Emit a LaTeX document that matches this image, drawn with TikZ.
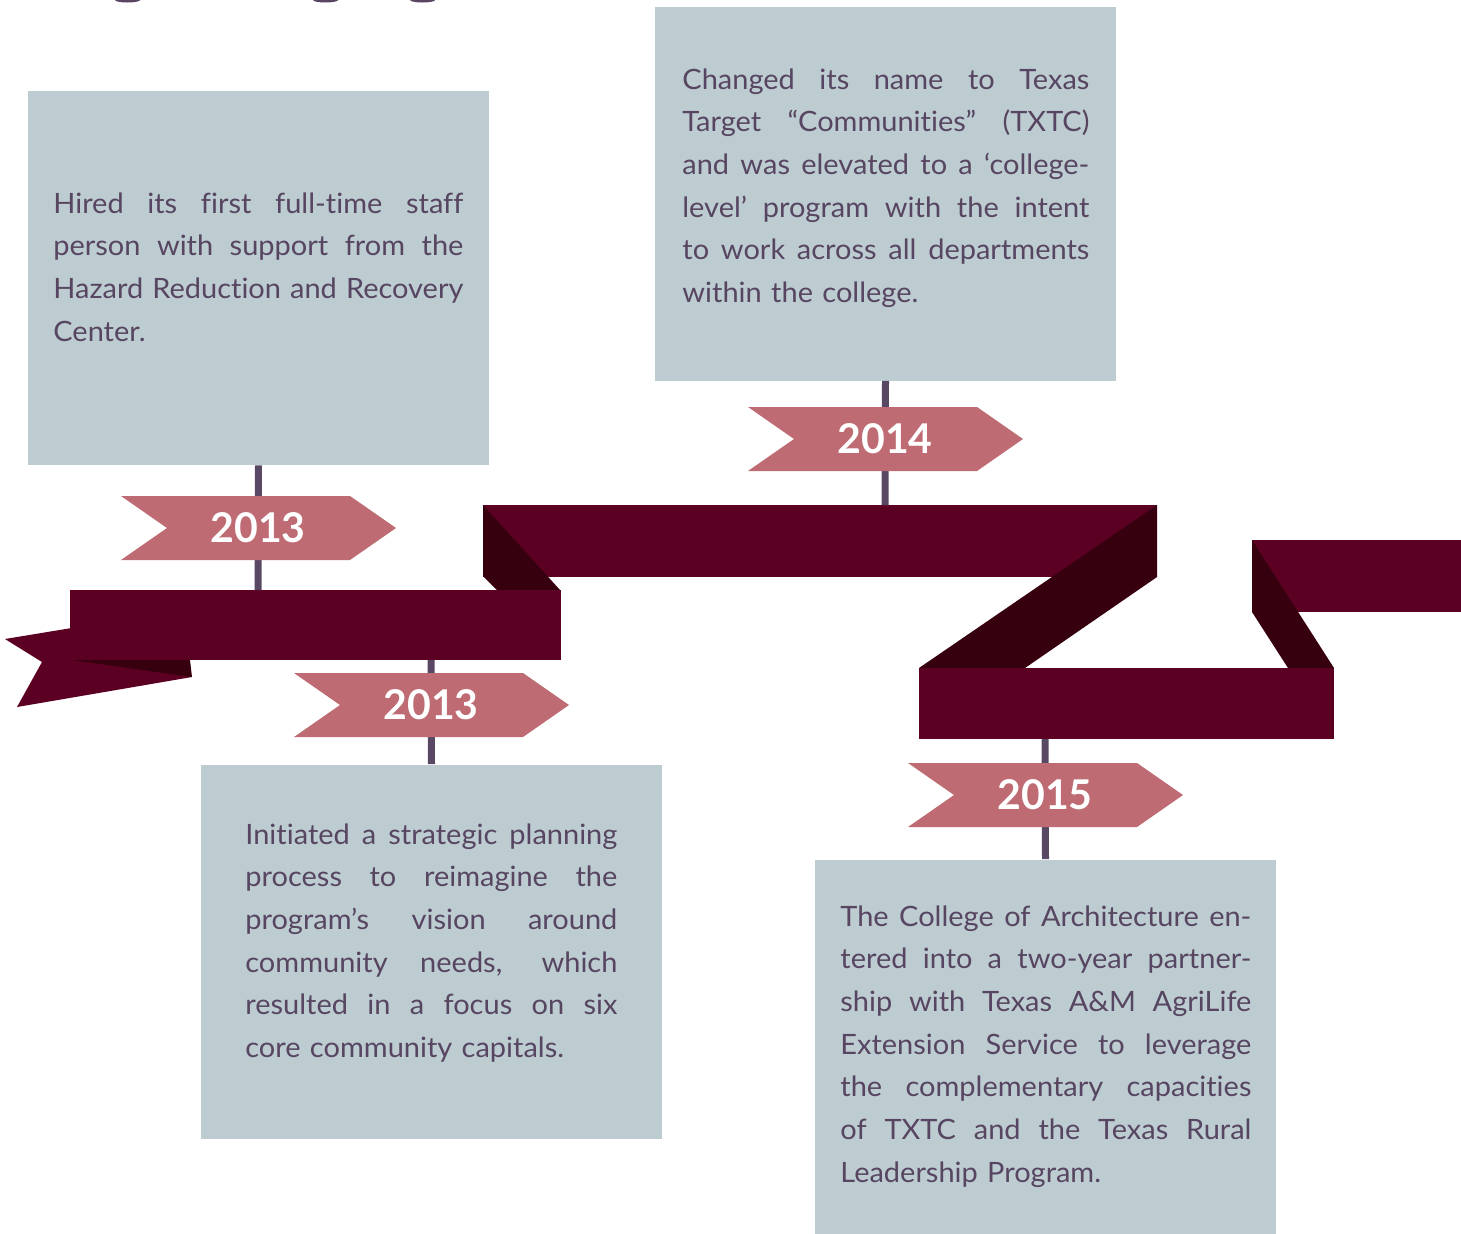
\documentclass[tikz,border=0pt]{standalone}
\usepackage{fontspec}
\setmainfont{Lato}
\newfontfamily\bodyfont[FakeStretch=1.035,Ligatures=NoCommon]{Lato}
\usepackage{xcolor}
\usepackage{tikz}
\usetikzlibrary{positioning}
\setlength{\parindent}{0pt}

\definecolor{ribbon}{HTML}{5C0023}
\definecolor{ribbonfold}{HTML}{37000F}
\definecolor{tagpink}{HTML}{BF6B73}
\definecolor{boxgrey}{HTML}{BCCCD1}
\definecolor{inkpurple}{HTML}{574561}
\definecolor{stempurple}{HTML}{594864}

\newlength{\linew}
% one justified line of a box text
\newcommand{\jline}[1]{\leavevmode\hbox to \linew{\spaceskip=0.2em plus 1fil minus 0.06em\relax #1}\\}
% year flag: name, x, y, year
\newcommand{\yeartag}[4]{%
  \fill[tagpink] (#2-137,#3-32) -- (#2+92,#3-32) -- (#2+138,#3) -- (#2+92,#3+32) -- (#2-137,#3+32) -- (#2-91,#3) -- cycle;
  \node[yeartxt] (#1) at (#2,#3) {#4};}

\begin{document}
\begin{tikzpicture}[x=0.5pt,y=-0.5pt,
  infobox/.style={fill=boxgrey,inner sep=0pt,minimum width=230.5pt,minimum height=187pt},
  infotext/.style={anchor=north west,inner sep=0pt,align=left,text=inkpurple,text width=#1,
    font=\bodyfont\fontsize{14}{21.35}\selectfont,execute at begin node={\setlength{\linew}{#1}}},
  yeartxt/.style={inner sep=0pt,text=white,font=\fontsize{20.5}{24}\selectfont\bfseries},
  stem/.style={stempurple,line width=3.5pt}]
	\useasboundingbox (0,0) rectangle (1461,1233);
	% bits of the cut title
	\fill[inkpurple] (127.5,0) ellipse (12.5 and 2.5);
	\fill[inkpurple] (325.5,0) ellipse (12.5 and 2.5);
	\fill[inkpurple] (422.5,0) ellipse (12.5 and 2.5);

	% boxes
	\node[infobox] (box1) at (258.5,278) {};
	\node[infobox] (box2) at (431.5,951.5) {};
	\node[infobox] (box3) at (885.5,193.5) {};
	\node[infobox] (box4) at (1045.5,1046.5) {};

	% ribbon
	\fill[ribbon] (5,639) -- (120,620) -- (192,677) -- (17,707) -- (42,662) -- cycle;
	\fill[ribbonfold] (72,660) -- (190,660) -- (192,677) -- cycle;
	\fill[ribbon] (483,505) rectangle (1157,577);
	\fill[ribbonfold] (483,505) -- (560,590) -- (497,590) -- (483,576) -- cycle;
	\fill[ribbon] (70,590) rectangle (561,660);
	\fill[ribbon] (919,668) rectangle (1334,739);
	\fill[ribbonfold] (1157,505) -- (1157,577) -- (1025,668) -- (919,668) -- cycle;
	\fill[ribbon] (1252,540) rectangle (1461,612);
	\fill[ribbonfold] (1252,540) -- (1252,612) -- (1288,668) -- (1334,668) -- cycle;

	\coordinate (r1) at (258,590);
	\coordinate (r2) at (431,660);
	\coordinate (r3) at (885,505);
	\coordinate (r4) at (1045,739);
	\draw[stem] (box1.south) -- (r1);
	\draw[stem] (r2) -- (box2.north);
	\draw[stem] (box3.south) -- (r3);
	\draw[stem] (r4) -- (box4.north);

	% year flags
	\yeartag{y1}{258}{528}{2013}
	\yeartag{y2}{431}{705}{2013}
	\yeartag{y3}{885}{439}{2014}
	\yeartag{y4}{1045}{795}{2015}

	% texts
	\node[infotext=205pt] (t1) at (53,192) {\jline{Hired its first full-time staff}\jline{person with support from the}\jline{Hazard Reduction and Recovery}Center.};
	\node[infotext=186pt] (t2) at (245,823) {\jline{Initiated a strategic planning}\jline{process to reimagine the}\jline{program’s vision around}\jline{community needs, which}\jline{resulted in a focus on six}core community capitals.};
	\node[infotext=203.5pt] (t3) at (682,68) {\jline{Changed its name to Texas}\jline{Target “Communities” (TXTC)}\jline{and was elevated to a ‘college-}\jline{level’ program with the intent}\jline{to work across all departments}within the college.};
	\node[infotext=205.5pt] (t4) at (840,905) {\jline{The College of Architecture en-}\jline{tered into a two-year partner-}\jline{ship with Texas A\&M AgriLife}\jline{Extension Service to leverage}\jline{the complementary capacities}\jline{of TXTC and the Texas Rural}Leadership Program.};
\end{tikzpicture}
\end{document}
